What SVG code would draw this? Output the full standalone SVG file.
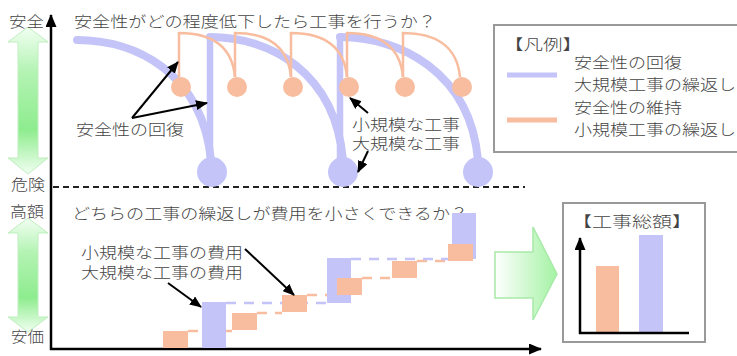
<svg xmlns="http://www.w3.org/2000/svg" width="737" height="356" viewBox="0 0 737 356">
<defs>
<style>
.t{font-family:"Noto Sans CJK JP","Noto Sans",sans-serif;font-size:15px;font-weight:300;fill:#444;}
.big{stroke:#c4c4f8;fill:none;stroke-width:8;stroke-linecap:round;}
.bigv{stroke:#c4c4f8;fill:none;stroke-width:6.5;}
.bcirc{fill:#c4c4f8;}
.sm{stroke:#f8bd9f;fill:none;stroke-width:2.5;}
.scirc{fill:#f8bd9f;}
.arr{stroke:#000;stroke-width:2;fill:none;marker-end:url(#ah);}
.axis{stroke:#000;stroke-width:2.5;fill:none;}
.bbar{fill:#c4c4f8;}
.obar{fill:#f8bd9f;}
.bdash{stroke:#c4c4f8;stroke-width:2.5;stroke-dasharray:10 8;fill:none;}
.odash{stroke:#f8bd9f;stroke-width:2.5;stroke-dasharray:10 8;fill:none;}
.box{fill:#fff;stroke:#999;stroke-width:2;}
</style>
<marker id="ah" markerWidth="12" markerHeight="10" refX="11" refY="5" orient="auto" markerUnits="userSpaceOnUse"><path d="M0,0 L12,5 L0,10 Z" fill="#000"/></marker>
<marker id="ahax" markerWidth="13" markerHeight="11" refX="12" refY="5.5" orient="auto" markerUnits="userSpaceOnUse"><path d="M0,0 L13,5.5 L0,11 Z" fill="#000"/></marker>
<linearGradient id="gv" x1="0" y1="0" x2="0" y2="1">
<stop offset="0" stop-color="#f2fff2"/>
<stop offset="0.3" stop-color="#b4f3b4"/>
<stop offset="0.7" stop-color="#8eec8e"/>
<stop offset="1" stop-color="#f2fff2"/>
</linearGradient>
<linearGradient id="gh" x1="0" y1="0" x2="1" y2="0">
<stop offset="0" stop-color="#ffffff"/>
<stop offset="1" stop-color="#a4f2a4"/>
</linearGradient>
</defs>
<rect width="737" height="356" fill="#fff"/>

<g id="side-labels">
<path d="M28,27 L48,42 L38,42 L38,158 L48,158 L28,174 L8,158 L18,158 L18,42 L8,42 Z" fill="url(#gv)" stroke="#bfeebf" stroke-width="1"/>
<path d="M28,218 L48,233 L38,233 L38,317 L48,317 L28,332 L8,317 L18,317 L18,233 L8,233 Z" fill="url(#gv)" stroke="#bfeebf" stroke-width="1"/>
<text class="t" x="9" y="27" textLength="35" lengthAdjust="spacingAndGlyphs">安全</text>
<text class="t" x="11" y="190" textLength="34" lengthAdjust="spacingAndGlyphs">危険</text>
<text class="t" x="10" y="217" textLength="34" lengthAdjust="spacingAndGlyphs">高額</text>
<text class="t" x="11" y="342" textLength="33" lengthAdjust="spacingAndGlyphs">安価</text>
</g>

<g id="axes">
<line class="axis" x1="51" y1="350" x2="51" y2="15" marker-end="url(#ahax)"/>
<line class="axis" x1="50" y1="349" x2="541" y2="349" marker-end="url(#ahax)"/>
<line x1="53" y1="187" x2="525" y2="187" stroke="#222" stroke-width="2" stroke-dasharray="6 4"/>
</g>

<g id="titles">
<text class="t" x="74" y="27" textLength="362" lengthAdjust="spacingAndGlyphs">安全性がどの程度低下したら工事を行うか？</text>
<text class="t" x="72" y="219" textLength="396" lengthAdjust="spacingAndGlyphs">どちらの工事の繰返しが費用を小さくできるか？</text>
</g>

<g id="large-works">
<path class="big" d="M77,40 C135,40 202,72 211,160"/>
<path class="big" d="M210,37 C270,37 335,72 343,160"/>
<path class="big" d="M340,37 C400,37 470,72 478,160"/>
<line class="bigv" x1="210" y1="34" x2="210" y2="165"/>
<line class="bigv" x1="340" y1="34" x2="340" y2="165"/>
<circle class="bcirc" cx="212" cy="172" r="15"/>
<circle class="bcirc" cx="343" cy="172" r="15"/>
<circle class="bcirc" cx="478" cy="172" r="15"/>
</g>

<g id="small-works">
<path class="sm" d="M179,77 V33 C210,33 232,45 235,77"/>
<path class="sm" d="M235,77 V33 C266,33 288,45 291,77"/>
<path class="sm" d="M291,77 V33 C322,33 344,45 347,77"/>
<path class="sm" d="M347,77 V33 C378,33 400,45 403,77"/>
<path class="sm" d="M403,77 V33 C434,33 457,45 460,77"/>
<circle class="scirc" cx="181" cy="87" r="10"/>
<circle class="scirc" cx="237" cy="87" r="10"/>
<circle class="scirc" cx="293" cy="87" r="10"/>
<circle class="scirc" cx="349" cy="87" r="10"/>
<circle class="scirc" cx="405" cy="87" r="10"/>
<circle class="scirc" cx="462" cy="87" r="10"/>
</g>

<g id="top-labels">
<text class="t" x="76" y="135" textLength="108" lengthAdjust="spacingAndGlyphs">安全性の回復</text>
<text class="t" x="352" y="130" textLength="108" lengthAdjust="spacingAndGlyphs">小規模な工事</text>
<text class="t" x="352" y="149" textLength="108" lengthAdjust="spacingAndGlyphs">大規模な工事</text>
</g>

<g id="legend">
<rect class="box" x="494" y="25" width="260" height="127"/>
<text class="t" x="504" y="50" font-size="17" textLength="78" lengthAdjust="spacingAndGlyphs">【凡例】</text>
<line x1="507" y1="75" x2="557" y2="75" stroke="#c4c4f8" stroke-width="5"/>
<line x1="507" y1="120" x2="557" y2="120" stroke="#f8bd9f" stroke-width="5"/>
<text class="t" x="574" y="68" textLength="108" lengthAdjust="spacingAndGlyphs">安全性の回復</text>
<text class="t" x="574" y="90" textLength="162" lengthAdjust="spacingAndGlyphs">大規模工事の繰返し</text>
<text class="t" x="574" y="113" textLength="108" lengthAdjust="spacingAndGlyphs">安全性の維持</text>
<text class="t" x="574" y="135" textLength="162" lengthAdjust="spacingAndGlyphs">小規模工事の繰返し</text>
</g>

<g id="cost-chart">
<line class="odash" x1="188" y1="331" x2="232" y2="331"/>
<line class="odash" x1="257" y1="313" x2="282" y2="313"/>
<line class="odash" x1="307" y1="295" x2="337" y2="295"/>
<line class="odash" x1="362" y1="278" x2="392" y2="278"/>
<line class="odash" x1="417" y1="261" x2="448" y2="261"/>
<line class="bdash" x1="226" y1="303" x2="327" y2="303"/>
<line class="bdash" x1="351" y1="259" x2="452" y2="259"/>
<rect class="bbar" x="202" y="302" width="24" height="46"/>
<rect class="bbar" x="327" y="258" width="24" height="45"/>
<rect class="bbar" x="452" y="213" width="24" height="46"/>
<rect class="obar" x="163" y="331" width="25" height="17"/>
<rect class="obar" x="232" y="313" width="25" height="17"/>
<rect class="obar" x="282" y="295" width="25" height="17"/>
<rect class="obar" x="337" y="278" width="25" height="17"/>
<rect class="obar" x="392" y="261" width="25" height="17"/>
<rect class="obar" x="448" y="244" width="25" height="17"/>
</g>

<g id="cost-labels">
<text class="t" x="81" y="258" textLength="162" lengthAdjust="spacingAndGlyphs">小規模な工事の費用</text>
<text class="t" x="81" y="278" textLength="162" lengthAdjust="spacingAndGlyphs">大規模な工事の費用</text>
</g>

<g id="big-arrow">
<path d="M495,252 L533,252 L533,227 L557,274 L533,320 L533,298 L495,298 Z" fill="url(#gh)" stroke="#a8eaa8" stroke-width="1.5"/>
</g>

<g id="total-box">
<rect class="box" x="563" y="203" width="142" height="139"/>
<text class="t" x="572" y="227" font-size="17" textLength="120" lengthAdjust="spacingAndGlyphs">【工事総額】</text>
<rect class="obar" x="596" y="266" width="23" height="67"/>
<rect class="bbar" x="639" y="235" width="24" height="98"/>
<line class="axis" x1="580" y1="334" x2="580" y2="238" marker-end="url(#ahax)"/>
<line class="axis" x1="579" y1="333" x2="689" y2="333"/>
</g>

<g id="connectors">
<line class="arr" x1="132" y1="118" x2="178" y2="62"/>
<line class="arr" x1="132" y1="118" x2="207" y2="103"/>
<line class="arr" x1="368" y1="113" x2="350" y2="98"/>
<line class="arr" x1="368" y1="151" x2="358" y2="172"/>
<line class="arr" x1="245" y1="249" x2="294" y2="295"/>
<line class="arr" x1="168" y1="283" x2="201" y2="307"/>
</g>
</svg>
